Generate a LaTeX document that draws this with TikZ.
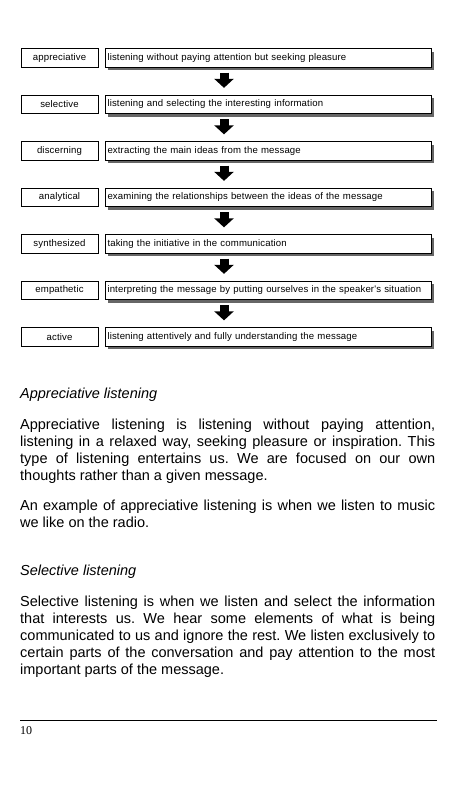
\documentclass[tikz,border=0pt]{standalone}
\usepackage{fontspec}
\setmainfont{Liberation Sans}
\newfontfamily\numfont{Liberation Serif}
\newfontfamily\boxfont[LetterSpace=1.4]{Liberation Sans}
\usetikzlibrary{arrows.meta,positioning,shadows}
\frenchspacing

\begin{document}
\begin{tikzpicture}[
  x=1pt, y=-1pt,
  node distance=27.2pt and 6.2pt,
  kind/.style={draw, line width=0.8pt, minimum width=77pt, minimum height=18.5pt, inner sep=0pt, font=\boxfont\fontsize{9.6}{10}\selectfont},
  desc/.style={draw, line width=0.8pt, fill=white, text width=321pt, align=left, inner xsep=2.5pt, inner ysep=0pt, minimum height=18.5pt, font=\boxfont\fontsize{9.6}{10}\selectfont,
    drop shadow={shadow xshift=3pt, shadow yshift=-3pt, fill=black!60, opacity=1}},
  flow/.style={line width=9pt, -{Triangle[length=9pt, width=19pt]}, shorten <=5pt, shorten >=7pt},
  heading/.style={anchor=base west, inner sep=0pt, font=\fontsize{14.5}{17}\selectfont\itshape},
  para/.style={anchor=north west, inner sep=0pt, text width=415pt, align=justify, font=\fontsize{14.5}{17}\selectfont},
]
\useasboundingbox[fill=white] (0,0) rectangle (475,786);

% Kinds of listening
\node[kind] (k1) at (59.5,58) {appreciative};
\node[desc, right=of k1] (d1) {listening without paying attention but seeking pleasure};

\node[kind, below=of k1] (k2) {selective};
\node[desc, right=of k2] (d2) {listening and selecting the interesting information};

\node[kind, below=of k2] (k3) {discerning};
\node[desc, right=of k3] (d3) {extracting the main ideas from the message};

\node[kind, below=of k3] (k4) {analytical};
\node[desc, right=of k4] (d4) {examining the relationships between the ideas of the message};

\node[kind, below=of k4] (k5) {synthesized};
\node[desc, right=of k5] (d5) {taking the initiative in the communication};

\node[kind, below=of k5] (k6) {empathetic};
\node[desc, right=of k6] (d6) {interpreting the message by putting ourselves in the speaker's situation};

\node[kind, below=of k6] (k7) {active};
\node[desc, right=of k7] (d7) {listening attentively and fully understanding the message};

% Block arrows
\draw[flow] ([xshift=-44pt]d1.south) -- ([xshift=-44pt]d2.north);
\draw[flow] ([xshift=-44pt]d2.south) -- ([xshift=-44pt]d3.north);
\draw[flow] ([xshift=-44pt]d3.south) -- ([xshift=-44pt]d4.north);
\draw[flow] ([xshift=-44pt]d4.south) -- ([xshift=-44pt]d5.north);
\draw[flow] ([xshift=-44pt]d5.south) -- ([xshift=-44pt]d6.north);
\draw[flow] ([xshift=-44pt]d6.south) -- ([xshift=-44pt]d7.north);

% Text below
\node[heading] (h1) at (20,398) {Appreciative listening};
\node[para] (p1) at (20,418.5) {Appreciative listening is listening without paying attention,\linebreak
  listening in a relaxed way, seeking pleasure or inspiration. This\linebreak
  type of listening entertains us. We are focused on our own\linebreak
  thoughts rather than a given message.};
\node[para] (p2) at (20,499.5) {An example of appreciative listening is when we listen to music\linebreak
  we like on the radio.};

\node[heading] (h2) at (20,575) {Selective listening};
\node[para] (p3) at (20,595.5) {Selective listening is when we listen and select the information\linebreak
  that interests us. We hear some elements of what is being\linebreak
  communicated to us and ignore the rest. We listen exclusively to\linebreak
  certain parts of the conversation and pay attention to the most\linebreak
  important parts of the message.};

% Footer
\draw[line width=0.8pt] (20,720) -- (437,720);
\node[anchor=base west, inner sep=0pt, font=\numfont\fontsize{12}{14}\selectfont] (pg) at (20,734) {10};

\end{tikzpicture}
\end{document}
